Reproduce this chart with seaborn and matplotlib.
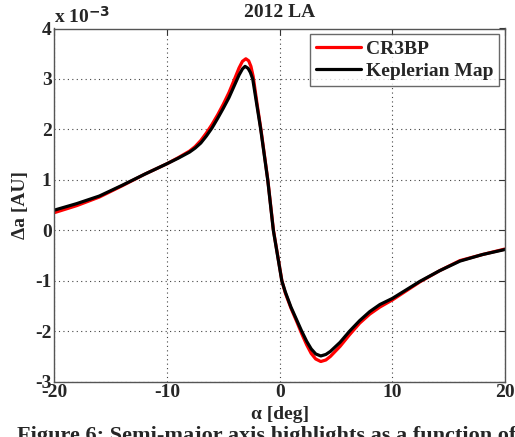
import numpy as np
import pandas as pd
import matplotlib
matplotlib.use("Agg")
import matplotlib.pyplot as plt
import seaborn as sns

# ---- data ----
alpha_cr3bp = [-20, -18, -16, -14, -12, -10, -9, -8, -7.5, -7, -6.5, -6, -5.5, -5, -4.5, -4,
               -3.6, -3.3, -3.0, -2.75, -2.55, -2.35, -2.0, -1.66, -1.05, -0.55, 0.2, 0.5,
               1.0, 1.5, 1.96, 2.4, 2.8, 3.2, 3.65, 4.1, 4.5, 5.36, 6.2, 7.1, 8.0, 8.9,
               10, 12.46, 14.2, 16, 18, 20]
da_cr3bp = [0.35, 0.49, 0.66, 0.88, 1.11, 1.32, 1.44, 1.57, 1.66, 1.78, 1.93, 2.10, 2.29, 2.50,
            2.73, 3.00, 3.22, 3.35, 3.40, 3.36, 3.25, 3.05, 2.50, 2.00, 1.00, 0.00, -1.00, -1.24,
            -1.54, -1.80, -2.05, -2.27, -2.44, -2.55, -2.60, -2.57, -2.50, -2.30, -2.07, -1.84,
            -1.66, -1.52, -1.38, -1.02, -0.80, -0.60, -0.48, -0.37]

alpha_kep = [-20, -18, -16, -14, -12, -10, -9, -8, -7.5, -7, -6.5, -6, -5.5, -5, -4.5, -4,
             -3.6, -3.3, -3.07, -2.8, -2.6, -2.39, -2.0, -1.68, -1.06, -0.56, 0.19, 0.5,
             1.0, 1.5, 1.96, 2.4, 2.8, 3.2, 3.65, 4.1, 4.5, 5.36, 6.2, 7.1, 8.0, 8.9,
             10, 12.46, 14.2, 16, 18, 20]
da_kep = [0.40, 0.53, 0.68, 0.89, 1.11, 1.32, 1.43, 1.55, 1.63, 1.73, 1.87, 2.03, 2.22, 2.42,
          2.63, 2.88, 3.08, 3.20, 3.25, 3.21, 3.13, 3.00, 2.45, 2.00, 1.00, 0.00, -1.00, -1.22,
          -1.52, -1.77, -2.00, -2.20, -2.35, -2.45, -2.49, -2.46, -2.40, -2.22, -2.00, -1.79,
          -1.61, -1.47, -1.35, -1.01, -0.80, -0.61, -0.48, -0.38]

series_names = ["CR3BP", "Keplerian Map"]
xticks = [-20, -10, 0, 10, 20]
yticks = [-3, -2, -1, 0, 1, 2, 3, 4]

df = pd.concat([
    pd.DataFrame({"alpha": alpha_cr3bp, "da": da_cr3bp, "series": series_names[0]}),
    pd.DataFrame({"alpha": alpha_kep, "da": da_kep, "series": series_names[1]}),
], ignore_index=True)

sns.set_style("white")
plt.rcParams["font.family"] = ["Liberation Serif", "DejaVu Serif"]
plt.rcParams["font.weight"] = "bold"
plt.rcParams["mathtext.default"] = "regular"

FS = 14
W, H = 515, 437
fig = plt.figure(figsize=(W / 100, H / 100), dpi=100)
L, R, T, B = 54.3, 505.0, 28.5, 381.7
ax = fig.add_axes([L / W, 1 - B / H, (R - L) / W, (B - T) / H])

sns.lineplot(data=df, x="alpha", y="da", hue="series", sort=False,
             palette={series_names[0]: "#ff0000", series_names[1]: "#000000"},
             linewidth=2.3, ax=ax, legend=True)

ax.set_xlim(-20, 20)
ax.set_ylim(-3, 4)
ax.set_xticks(xticks)
ax.set_yticks(yticks)
ax.set_xticklabels([("-" + str(abs(t))) if t < 0 else str(t) for t in xticks],
                   fontsize=FS, fontweight="bold")
ax.set_yticklabels([("-" + str(abs(t))) if t < 0 else str(t) for t in yticks],
                   fontsize=FS, fontweight="bold")
ax.tick_params(direction="in", length=4, width=0.8, top=True, right=True,
               color="#333333", pad=2)
ax.grid(True, linestyle=(0, (1, 3)), color="#444444", linewidth=0.8)
for s in ax.spines.values():
    s.set_color("#555555")
    s.set_linewidth(1.0)

ax.set_xlabel("\u03b1 [deg]", fontsize=FS, fontweight="bold", labelpad=3)
ax.set_ylabel("\u0394a [AU]", fontsize=FS, fontweight="bold", labelpad=4)
ax.set_title("2012 LA", fontsize=FS, fontweight="bold", pad=8)

fig.text(54 / W, 1 - 23 / H, "x 10$^{\\mathbf{-3}}$", fontsize=FS, fontweight="bold",
         ha="left", va="baseline")

leg = ax.legend(loc="upper right", bbox_to_anchor=(0.987, 0.984), borderaxespad=0,
                fontsize=FS, handlelength=2.3, handletextpad=0.25, labelspacing=0.25,
                frameon=True, fancybox=False, borderpad=0.3)
leg.get_frame().set_edgecolor("#444444")
leg.get_frame().set_linewidth(1.0)
for t in leg.get_texts():
    t.set_fontweight("bold")
for l in leg.get_lines():
    l.set_linewidth(2.3)

fig.text(17 / W, 1 - 426 / H, "Figure 6: Semi-major axis highlights as a function of",
         fontsize=16, fontweight="bold", ha="left", va="top")

fig.savefig("out.png", dpi=100)
